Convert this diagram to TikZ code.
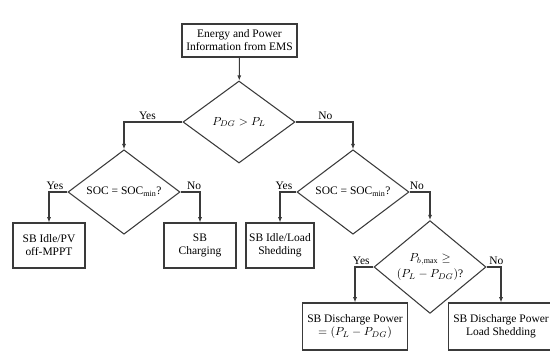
\documentclass[tikz,border=0pt]{standalone}
\usepackage{fontspec}
\setmainfont{Liberation Serif}
\usetikzlibrary{arrows.meta,shapes.geometric}
\definecolor{Ink}{HTML}{3A3A3A}
\newcommand{\flowfont}{\fontsize{9.8}{11.2}\selectfont}
\tikzset{
  >={Latex[length=4.5pt,width=3.5pt]},
  box/.style={rectangle,draw=Ink,line width=.9pt,fill=white,align=center,font=\flowfont,inner sep=1pt,minimum width=21.6mm,minimum height=13.5mm},
  dec/.style={diamond,draw=Ink,line width=.9pt,fill=white,align=center,font=\flowfont,inner sep=0pt,minimum width=33.6mm,minimum height=24.6mm},
  flow/.style={->,line width=.9pt,draw=Ink},
  lab/.style={font=\flowfont,above,inner sep=1.5pt}
}
\begin{document}
\begin{tikzpicture}[x=.3mm,y=-.3mm]
        \useasboundingbox (0,0) rectangle (550,356);
        \node[box,minimum width=34.5mm,minimum height=9.9mm] (ems) at (239.5,40.5) {Energy and Power\\Information from EMS};
        \node[dec] (pdg) at (239,122) {$P_{DG} > P_L$};
        \node[dec] (socl) at (124,192) {SOC = SOC$_{\min}$?}; \node[dec] (socr) at (353,192) {SOC = SOC$_{\min}$?};
        \node[dec] (pmax) at (430,267) {$P_{b,\max}\geq$\\[2pt]$(P_L-P_{DG})$?};
        \node[box] (idle) at (49,245.5) {SB Idle/PV\\off-MPPT}; \node[box] (charge) at (200,245.5) {SB\\Charging};
        \node[box,minimum width=20.4mm] (shed) at (280,245.5) {SB Idle/Load\\Shedding};
        \node[box,minimum width=31.5mm,minimum height=14.1mm] (dis) at (355,326.5) {SB Discharge Power\\$=(P_L-P_{DG})$};
        \node[box,minimum width=31.5mm,minimum height=14.1mm] (disshed) at (501,326.5) {SB Discharge Power\\Load Shedding};
        \draw[flow] (ems)--(pdg);
        \draw[flow] (pdg.west)-|node[lab,pos=.3] {Yes}(socl.north);
        \draw[flow] (pdg.east)-|node[lab,pos=.26] {No}(socr.north);
        \draw[flow] (socl.west)-|node[lab,pos=.34] {Yes}(idle.north);
        \draw[flow] (socl.east)-|node[lab,pos=.35] {No}(charge.north);
        \draw[flow] (socr.west)-|node[lab,pos=.38] {Yes}(shed.north);
        \draw[flow] (socr.east)-|node[lab,pos=.18] {No}(pmax.north);
        \draw[flow] (pmax.west)-|node[lab,pos=.33] {Yes}(dis.north);
        \draw[flow] (pmax.east)-|node[lab,pos=.34] {No}(disshed.north);
      \end{tikzpicture}
\end{document}
